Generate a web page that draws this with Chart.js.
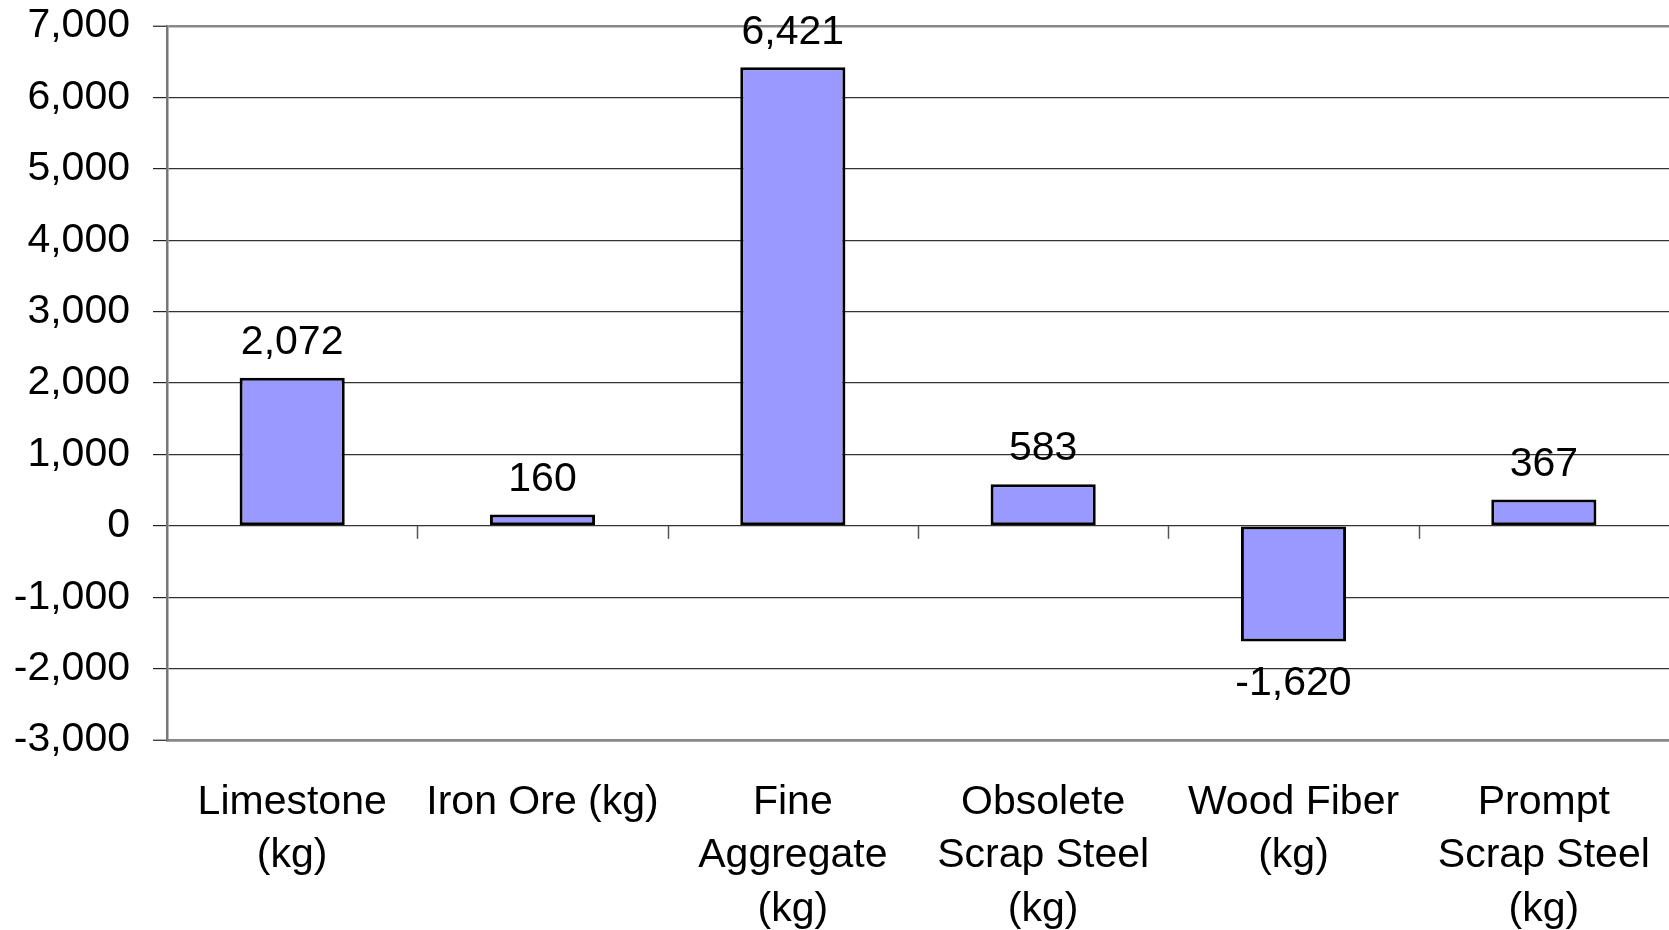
<!DOCTYPE html>
<html>
<head>
<meta charset="utf-8">
<script src="https://cdn.jsdelivr.net/npm/chart.js@4.4.0/dist/chart.umd.min.js"></script>
<style>
  html, body { margin: 0; padding: 0; background: #fff; }
  canvas { display: block; }
</style>
</head>
<body>
<canvas id="barChart" width="1669" height="930"></canvas>
<script>
const categories = [
  ['Limestone', '(kg)'],
  ['Iron Ore (kg)'],
  ['Fine', 'Aggregate', '(kg)'],
  ['Obsolete', 'Scrap Steel', '(kg)'],
  ['Wood Fiber', '(kg)'],
  ['Prompt', 'Scrap Steel', '(kg)']
];
const values = [2072, 160, 6421, 583, -1620, 367];
const yMin = -3000;
const yMax = 7000;
const yStep = 1000;

const FONT = '"Liberation Sans", Arial, sans-serif';
const fmt = v => v.toLocaleString('en-US');

// value labels above / below each bar
const valueLabels = {
  id: 'valueLabels',
  afterDatasetsDraw(chart) {
    const ctx = chart.ctx;
    const meta = chart.getDatasetMeta(0);
    ctx.save();
    ctx.font = '41px ' + FONT;
    ctx.fillStyle = '#000';
    ctx.textAlign = 'center';
    ctx.textBaseline = 'middle';
    meta.data.forEach((bar, i) => {
      const v = values[i];
      const y = v >= 0 ? bar.y - 35 : bar.y + 42;
      ctx.fillText(fmt(v), bar.x, y);
    });
    ctx.restore();
  }
};

// small category tick marks hanging from the zero line
const zeroTicks = {
  id: 'zeroTicks',
  beforeDatasetsDraw(chart) {
    const ctx = chart.ctx;
    const xs = chart.scales.x;
    const y0 = chart.scales.y.getPixelForValue(0);
    const half = (xs.getPixelForValue(1) - xs.getPixelForValue(0)) / 2;
    ctx.save();
    ctx.strokeStyle = '#555';
    ctx.lineWidth = 1.5;
    for (let i = 0; i < values.length - 1; i++) {
      const x = Math.round(xs.getPixelForValue(i) + half) + 0.5;
      ctx.beginPath();
      ctx.moveTo(x, y0);
      ctx.lineTo(x, y0 + 13);
      ctx.stroke();
    }
    ctx.restore();
  }
};

new Chart(document.getElementById('barChart').getContext('2d'), {
  type: 'bar',
  data: {
    labels: categories,
    datasets: [{
      data: values,
      backgroundColor: '#9999FF',
      borderColor: '#000',
      borderWidth: 3,
      borderSkipped: false,
      barPercentage: 0.42,
      categoryPercentage: 1
    }]
  },
  options: {
    responsive: false,
    devicePixelRatio: 1,
    animation: false,
    layout: { padding: { top: 26, right: 0, left: 0, bottom: 0 } },
    plugins: {
      legend: { display: false },
      tooltip: { enabled: false }
    },
    scales: {
      x: {
        grid: { display: false, drawTicks: false },
        border: { display: true, color: '#888', width: 2.5 },
        ticks: {
          color: '#000',
          font: { family: FONT, size: 41, lineHeight: 1.3 },
          maxRotation: 0,
          minRotation: 0,
          autoSkip: false,
          padding: 36
        },
        afterFit(scale) {
          scale.height = 190;
          scale.paddingLeft = 0;
          scale.paddingRight = 0;
        }
      },
      y: {
        min: yMin,
        max: yMax,
        grid: {
          color: ctx => (ctx.tick && (ctx.tick.value === yMax || ctx.tick.value === yMin)) ? '#888' : '#333',
          lineWidth: ctx => (ctx.tick && (ctx.tick.value === yMax || ctx.tick.value === yMin)) ? 2.5 : 1.2,
          tickLength: 14,
          tickColor: '#222',
          tickWidth: 1.2
        },
        border: { display: true, color: '#777', width: 2.5 },
        ticks: {
          stepSize: yStep,
          color: '#000',
          padding: 23,
          font: { family: FONT, size: 41 },
          callback: v => fmt(v)
        },
        afterFit(scale) {
          scale.width = 167;
          scale.paddingTop = 0;
          scale.paddingBottom = 0;
        }
      }
    }
  },
  plugins: [zeroTicks, valueLabels]
});
</script>
</body>
</html>
